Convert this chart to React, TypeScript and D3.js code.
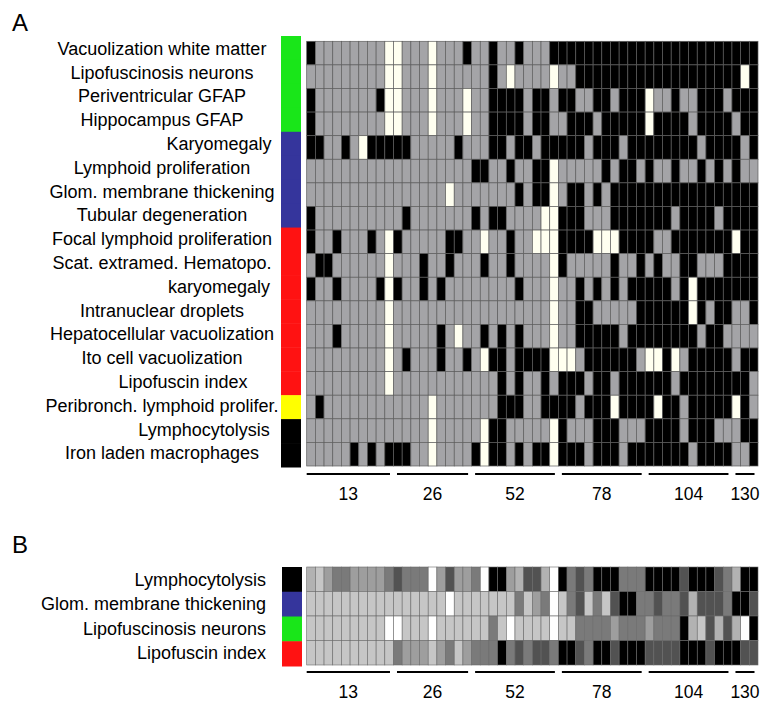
import React from "react";
import * as d3 from "d3";

const W = 762;
const H = 725;

// Panel A: histopathology findings per animal, grouped by weeks
const rowsA = [
  "Vacuolization white matter",
  "Lipofuscinosis neurons",
  "Periventricular GFAP",
  "Hippocampus GFAP",
  "Karyomegaly",
  "Lymphoid proliferation",
  "Glom. membrane thickening",
  "Tubular degeneration",
  "Focal lymphoid proliferation",
  "Scat. extramed. Hematopo.",
  "karyomegaly",
  "Intranuclear droplets",
  "Hepatocellular vacuolization",
  "Ito cell vacuolization",
  "Lipofuscin index",
  "Peribronch. lymphoid prolifer.",
  "Lymphocytolysis",
  "Iron laden macrophages",
];
const organA = [
  "brain", "brain", "brain", "brain",
  "kidney", "kidney", "kidney", "kidney",
  "liver", "liver", "liver", "liver", "liver", "liver", "liver",
  "lung", "other", "other",
];

// one string per row, 52 animals: "." absent, "x" present, "o" not scored
// (spaces only group the columns by ten)
const cellsA = [
  "x........o o...o...x. .x..x...xx xxxxxxxxxx xxxxxxxxxx xx",
  ".........o o...o..... .x.o....o. .xxxxxxxxx xxxxxxxxxx ox",
  "x.......xo o...o...o. .xxxx.xx.x x..xx.xxxo ..x..xxx.x xx",
  "x........o o...o...o. .xxxx.xx.. xxx.xxxxxo xxxx.xxxx. xx",
  "xx..x.oxxx xx.....x.. .xx.xx.xxx xx.xxx.xxx xxxxx.xxxx .x",
  ".......... .........x x..x..xxo. ....x.xx.x ..x..x.x.x ..",
  ".......... ......o... ....x.xxo. xx.x.xxxxx xxxxxxxxxx xx",
  "x......... .x.......x .xx....oox xx...xxxxx xx.xxxx.xx xx",
  "x..x...x.o x.....xx.. o..x..ooox xxxoooxxxx ..xxxxxxxo xx",
  ".xx......o ...x..x... x..x....ox .....x..x. x..xx...xx xx",
  "x..x....xo x..x.x.... ....x...o. .x.x.x.xxx xx.xoxxxxx xx",
  ".........o .......... ........o. .xx.....xx xxxxox.xx. .x",
  "...x.....o .....x.o.. x.x.x...o. .xxxxx.xxx xxxxx.xx.. ..",
  ".........o .x...x..x. oxx.xxxxoo o.xxxxxx.o oxo.xxxxx. xx",
  ".........o .......... ..x.x..x.x xx.xx.xxxx xx.xxxxxxx x.",
  ".x........ ....o..... ..xxx..xxx x.xxxoxxxx oxx.xxxxxo x.",
  ".......... ....o..... oxx.....ox ...xxx...x xxx.xxx... xx",
  ".....x.x.x xx..o....x oxx.x.xxox xx.xxx.xxx xxxx.xxxx. .x",
];

// Panel B: severity grade 0 (white) .. 6 (black) per animal
const rowsB = [
  "Lymphocytolysis",
  "Glom. membrane thickening",
  "Lipofuscinosis neurons",
  "Lipofuscin index",
];
const organB = ["other", "kidney", "brain", "liver"];
const cellsB = [
  "2134433334 5444035334 0663255206 4546664446 6665666542 66",
  "1111111111 1111110111 1111413401 4514156644 5445255546 65",
  "1111111110 0111011111 1410111101 1444434443 4446215252 06",
  "1111111111 4333134134 4464545546 6546656665 5556665666 55",
];

const weeks = ["13", "26", "52", "78", "104", "130"];
const weekSizes = [10, 9, 10, 10, 10, 3];

const organColor: Record<string, string> = {
  brain: "#19e619",
  kidney: "#35359c",
  liver: "#ff1212",
  lung: "#ffff00",
  other: "#000000",
};

const parse = (s: string) => s.replace(/ /g, "").split("");

const FONT = "'Liberation Sans', Arial, sans-serif";
// the row labels of panel A are hand placed: small nudges off the common centre
const labelShiftA: Record<number, number> = { 4: 57, 10: 57, 14: 21, 16: 42 };

export default function App() {
  const gridA = cellsA.map(parse);
  const gridB = cellsB.map((r) => parse(r).map(Number));
  const nCols = gridA[0].length;

  const x = d3.scaleBand<number>().domain(d3.range(nCols)).range([306.7, 758]);
  const yA = d3.scaleBand<number>().domain(d3.range(rowsA.length)).range([41.3, 466]);
  const yLabelA = d3.scalePoint<number>().domain(d3.range(rowsA.length)).range([48.5, 453]);
  const yBarA = d3.scaleBand<number>().domain(d3.range(rowsA.length)).range([36, 467]);
  const yB = d3.scaleBand<number>().domain(d3.range(rowsB.length)).range([567, 665]);
  const yBarB = d3.scaleBand<number>().domain(d3.range(rowsB.length)).range([567, 666]);

  const stateColor = d3
    .scaleOrdinal<string, string>()
    .domain([".", "x", "o"])
    .range(["#a4a4a7", "#000000", "#fffff0"]);
  const grade = d3
    .scaleLinear<string>()
    .domain([0, 1, 2, 3, 4, 5, 6])
    .range(["#ffffff", "#c6c6c6", "#b2b2b2", "#9e9e9e", "#7a7a7a", "#525252", "#000000"]);

  const ends = Array.from(d3.cumsum(weekSizes));
  const groups = weeks.map((w, i) => {
    const start = i === 0 ? 0 : ends[i - 1];
    const x0 = x(start)! + (i === 0 ? 0 : 3.5);
    const x1 = x(ends[i] - 1)! + x.bandwidth() - 3.5;
    return { w, x0, x1 };
  });

  const weekAxis = (yLine: number) => (
    <g>
      {groups.map((g) => (
        <g key={g.w}>
          <line x1={g.x0} x2={g.x1} y1={yLine} y2={yLine} stroke="#000" strokeWidth={2} />
          <text
            x={(g.x0 + g.x1) / 2}
            y={yLine + 26}
            textAnchor="middle"
            fontSize={17.5}
            fontFamily={FONT}
          >
            {g.w}
          </text>
        </g>
      ))}
    </g>
  );

  return (
    <svg
      width={W}
      height={H}
      style={{ position: "absolute", left: 0, top: 0, background: "#fff" }}
    >
      {/* Panel A */}
      <text x={12} y={31} fontSize={24} fontFamily={FONT}>A</text>
      {rowsA.map((r, i) => (
        <text
          key={r}
          x={162 + (labelShiftA[i] || 0)}
          y={yLabelA(i)!}
          dy="0.35em"
          textAnchor="middle"
          fontSize={18}
          fontFamily={FONT}
        >
          {r}
        </text>
      ))}
      {organA.map((o, i) => (
        <rect
          key={i}
          x={281}
          y={yBarA(i)!}
          width={20}
          height={yBarA.bandwidth() + 0.5}
          fill={organColor[o]}
        />
      ))}
      <g>
        {gridA.map((row, i) =>
          row.map((v, j) => (
            <rect
              key={i + "-" + j}
              x={x(j)!}
              y={yA(i)!}
              width={x.bandwidth()}
              height={yA.bandwidth()}
              fill={stateColor(v)}
              stroke="#5e5e5e"
              strokeWidth={0.7}
            />
          ))
        )}
      </g>
      {weekAxis(474)}

      {/* Panel B */}
      <text x={12} y={553} fontSize={24} fontFamily={FONT}>B</text>
      {rowsB.map((r, i) => (
        <text
          key={r}
          x={266}
          y={yB(i)! + yB.bandwidth() / 2}
          dy="0.35em"
          textAnchor="end"
          fontSize={18}
          fontFamily={FONT}
        >
          {r}
        </text>
      ))}
      {organB.map((o, i) => (
        <rect
          key={i}
          x={282}
          y={yBarB(i)!}
          width={20}
          height={yBarB.bandwidth() + 0.5}
          fill={organColor[o]}
        />
      ))}
      <g>
        {gridB.map((row, i) =>
          row.map((v, j) => (
            <rect
              key={i + "-" + j}
              x={x(j)!}
              y={yB(i)!}
              width={x.bandwidth()}
              height={yB.bandwidth()}
              fill={grade(v)}
              stroke="#6a6a6a"
              strokeWidth={0.6}
            />
          ))
        )}
      </g>
      {weekAxis(672)}
    </svg>
  );
}
